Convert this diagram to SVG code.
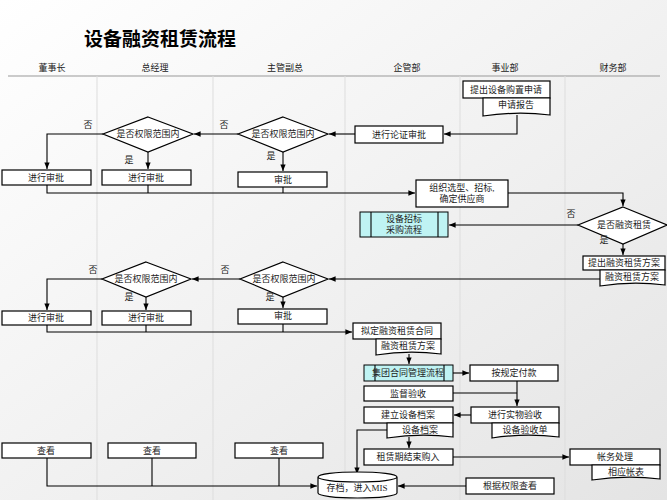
<svg xmlns="http://www.w3.org/2000/svg" width="667" height="500" viewBox="0 0 667 500">
<defs>
<linearGradient id="bg" x1="0" y1="0" x2="1" y2="1"><stop offset="0" stop-color="#ffffff"/><stop offset="1" stop-color="#e4e4e4"/></linearGradient>
<marker id="a" viewBox="0 0 10 10" refX="10" refY="5" markerWidth="6" markerHeight="6" orient="auto"><path d="M0,1 L10,5 L0,9 z" fill="#000"/></marker>
</defs>
<style>
text{font-family:"Liberation Serif","Noto Sans CJK SC",serif;font-size:9px;text-anchor:middle;fill:#222}
.b{fill:#fff;stroke:#000;stroke-width:1.2}
.c{fill:#bff3f3;stroke:#000;stroke-width:1}
.l{fill:none;stroke:#000;stroke-width:1.1}
.h{fill:none;stroke:#999;stroke-width:1}
.v{stroke:#ddd;stroke-width:1}
</style>
<rect width="667" height="500" fill="url(#bg)"/>
<text x="160" y="46" style="font-size:19px;font-weight:bold;font-family:'Noto Sans CJK SC',sans-serif;fill:#000">设备融资租赁流程</text>
<g id="lanes">
<line class="h" x1="8" y1="76" x2="660" y2="76"/>
<line class="v" x1="97" y1="76" x2="97" y2="500"/><line class="v" x1="213" y1="76" x2="213" y2="500"/><line class="v" x1="345" y1="76" x2="345" y2="500"/><line class="v" x1="460" y1="76" x2="460" y2="500"/><line class="v" x1="565" y1="76" x2="565" y2="500"/>
<text x="52" y="71">董事长</text><text x="155" y="71">总经理</text><text x="285" y="71">主管副总</text><text x="407" y="71">企管部</text><text x="505" y="71">事业部</text><text x="613" y="71">财务部</text>
</g>
<g id="connectors">
<path class="l" d="M517,115 V134 H444" marker-end="url(#a)"/>
<path class="l" d="M355,134 H329" marker-end="url(#a)"/>
<path class="l" d="M238,134 H194" marker-end="url(#a)"/>
<path class="l" d="M103,134 H47 V169" marker-end="url(#a)"/>
<path class="l" d="M148,152 V169" marker-end="url(#a)"/>
<path class="l" d="M283,152 V171" marker-end="url(#a)"/>
<path class="l" d="M47,185 V193 H415" marker-end="url(#a)"/>
<path class="l" d="M148,185 V193 M283,187 V193"/>
<path class="l" d="M508,193 H623 V206" marker-end="url(#a)"/>
<path class="l" d="M578,225 H449" marker-end="url(#a)"/>
<path class="l" d="M623,244 V255" marker-end="url(#a)"/>
<path class="l" d="M600,279 H329" marker-end="url(#a)"/>
<path class="l" d="M240,279 H192" marker-end="url(#a)"/>
<path class="l" d="M102,279 H47 V310" marker-end="url(#a)"/>
<path class="l" d="M146,297 V310" marker-end="url(#a)"/>
<path class="l" d="M283,297 V308" marker-end="url(#a)"/>
<path class="l" d="M47,325 V332 H352" marker-end="url(#a)"/>
<path class="l" d="M146,325 V332 M283,324 V332"/>
<path class="l" d="M409,354 V364" marker-end="url(#a)"/>
<path class="l" d="M453,373 H469" marker-end="url(#a)"/>
<path class="l" d="M453,393 H517 M517,381 V406" marker-end="url(#a)"/>
<path class="l" d="M471,415 H454" marker-end="url(#a)"/>
<path class="l" d="M409,437 V448" marker-end="url(#a)"/>
<path class="l" d="M453,457 H569" marker-end="url(#a)"/>
<path class="l" d="M387,430 H357 V474" marker-end="url(#a)"/>
<path class="l" d="M466,486 H398" marker-end="url(#a)"/>
<path class="l" d="M47,458 V486 H317" marker-end="url(#a)"/>
<path class="l" d="M152,458 V486 M279,458 V486"/>
</g>
<g id="n1"><rect class="b" x="463" y="81" width="87" height="17"/><text x="506" y="93">提出设备购置申请</text></g>
<g id="n2"><path class="b" d="M483,98 H550 V115 Q517,111 483,116 z"/><text x="516" y="108">申请报告</text></g>
<g id="n3"><rect class="b" x="355" y="126" width="88" height="17"/><text x="399" y="138">进行论证审批</text></g>
<g id="d2"><path class="b" d="M283,117 L328,134 L283,152 L238,134 z"/><text x="283" y="137">是否权限范围内</text></g>
<g id="d1"><path class="b" d="M148,117 L193,134 L148,152 L103,134 z"/><text x="148" y="137">是否权限范围内</text></g>
<text x="88" y="128">否</text><text x="224" y="128">否</text><text x="129" y="163">是</text><text x="271" y="159">是</text>
<g id="n4"><rect class="b" x="2" y="170" width="89" height="15"/><text x="46" y="181">进行审批</text></g>
<g id="n5"><rect class="b" x="102" y="170" width="89" height="15"/><text x="146" y="181">进行审批</text></g>
<g id="n6"><rect class="b" x="238" y="172" width="89" height="15"/><text x="283" y="183">审批</text></g>
<g id="n7"><rect class="b" x="416" y="180" width="92" height="27"/><text x="462" y="191">组织选型、招标,</text><text x="462" y="202">确定供应商</text></g>
<g id="n8"><rect class="c" x="360" y="212" width="88" height="25"/><line class="l" x1="371" y1="212" x2="371" y2="237"/><line class="l" x1="438" y1="212" x2="438" y2="237"/><text x="404" y="222">设备招标</text><text x="404" y="233">采购流程</text></g>
<g id="d5"><path class="b" d="M623,207 L667,225 L623,244 L578,225 z"/><text x="624" y="228">是否融资租赁</text></g>
<text x="571" y="217">否</text><text x="604" y="243">是</text>
<g id="n9"><rect class="b" x="583" y="256" width="82" height="14"/><text x="624" y="266">提出融资租赁方案</text></g>
<g id="n10"><path class="b" d="M600,270 H665 V285 Q632,281 600,286 z"/><text x="632" y="280">融资租赁方案</text></g>
<g id="d4"><path class="b" d="M283,262 L328,279 L283,297 L240,279 z"/><text x="284" y="282">是否权限范围内</text></g>
<g id="d3"><path class="b" d="M146,262 L191,279 L146,297 L102,279 z"/><text x="146" y="282">是否权限范围内</text></g>
<text x="93" y="273">否</text><text x="225" y="273">否</text><text x="129" y="300">是</text><text x="270" y="300">是</text>
<g id="n11"><rect class="b" x="2" y="311" width="89" height="14"/><text x="46" y="321">进行审批</text></g>
<g id="n12"><rect class="b" x="102" y="311" width="89" height="14"/><text x="146" y="321">进行审批</text></g>
<g id="n13"><rect class="b" x="238" y="309" width="89" height="15"/><text x="283" y="319">审批</text></g>
<g id="n14"><rect class="b" x="353" y="323" width="88" height="16"/><text x="397" y="334">拟定融资租赁合同</text></g>
<g id="n15"><path class="b" d="M376,339 H441 V354 Q408,350 376,355 z"/><text x="408" y="349">融资租赁方案</text></g>
<g id="n16"><rect class="c" x="364" y="365" width="89" height="16"/><line class="l" x1="375" y1="365" x2="375" y2="381"/><line class="l" x1="444" y1="365" x2="444" y2="381"/><text x="408" y="376">集团合同管理流程</text></g>
<g id="n17"><rect class="b" x="470" y="365" width="88" height="16"/><text x="514" y="376">按规定付款</text></g>
<g id="n18"><rect class="b" x="364" y="386" width="89" height="15"/><text x="408" y="397">监督验收</text></g>
<g id="n19"><rect class="b" x="471" y="407" width="88" height="16"/><text x="515" y="418">进行实物验收</text></g>
<g id="n20"><path class="b" d="M492,423 H559 V437 Q525,433 492,438 z"/><text x="525" y="433">设备验收单</text></g>
<g id="n21"><rect class="b" x="364" y="407" width="89" height="16"/><text x="408" y="418">建立设备档案</text></g>
<g id="n22"><path class="b" d="M387,423 H453 V437 Q420,433 387,438 z"/><text x="420" y="433">设备档案</text></g>
<g id="n23"><rect class="b" x="364" y="449" width="89" height="16"/><text x="408" y="460">租赁期结束购入</text></g>
<g id="n24"><rect class="b" x="570" y="449" width="90" height="16"/><text x="615" y="460">帐务处理</text></g>
<g id="n25"><path class="b" d="M592,465 H660 V479 Q626,475 592,480 z"/><text x="626" y="475">相应帐表</text></g>
<g id="n26"><path class="b" d="M318,477 V493 A39.5,5 0 0 0 397,493 V477 A39.5,5 0 0 0 318,477 A39.5,5 0 0 0 397,477"/><text x="357" y="491">存档，进入MIS</text></g>
<g id="n27"><rect class="b" x="466" y="478" width="88" height="16"/><text x="510" y="489">根据权限查看</text></g>
<g id="n28"><rect class="b" x="2" y="443" width="89" height="15"/><text x="46" y="454">查看</text></g>
<g id="n29"><rect class="b" x="108" y="443" width="88" height="15"/><text x="152" y="454">查看</text></g>
<g id="n30"><rect class="b" x="235" y="443" width="88" height="15"/><text x="279" y="454">查看</text></g>
</svg>
